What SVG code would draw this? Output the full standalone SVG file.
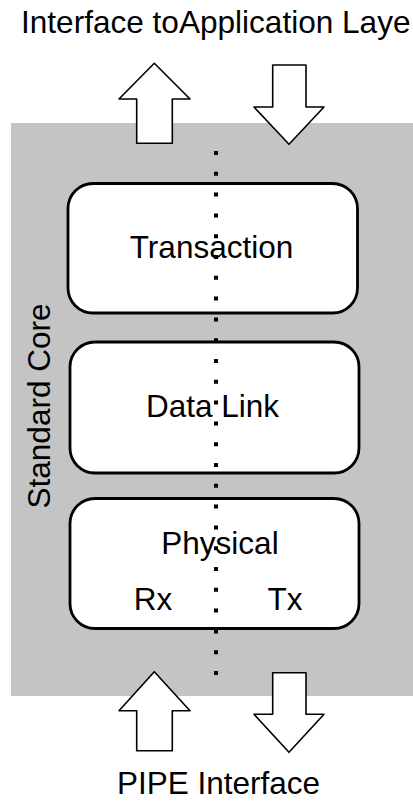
<svg xmlns="http://www.w3.org/2000/svg" width="413" height="801" viewBox="0 0 413 801">
<style>
  text { font-family: "Liberation Sans", Arial, sans-serif; font-size: 31.5px; fill: #000; }
  .box { fill: #fff; stroke: #000; stroke-width: 2.8; }
  .arrow { fill: #fff; stroke: #000; stroke-width: 1.6; stroke-linejoin: round; }
  .dots { stroke: #000; stroke-width: 4; stroke-dasharray: 4 16.8; fill: none; }
</style>
<rect id="core" x="11" y="123" width="410" height="573" fill="#c4c4c4"/>
<text id="title" x="21" y="32.5" textLength="389.5" lengthAdjust="spacingAndGlyphs">Interface toApplication Laye</text>
<text id="core-label" transform="translate(50,406) rotate(-90)" text-anchor="middle">Standard Core</text>
<g id="transaction">
  <rect class="box" x="68" y="183.5" width="289.5" height="129.5" rx="25"/>
  <text x="211.5" y="258" text-anchor="middle">Transaction</text>
</g>
<g id="datalink">
  <rect class="box" x="70" y="342" width="289" height="131" rx="25"/>
  <text x="212.5" y="417" text-anchor="middle">Data Link</text>
</g>
<g id="physical">
  <rect class="box" x="70" y="498.5" width="289" height="130" rx="25"/>
  <text x="220" y="553.5" text-anchor="middle">Physical</text>
  <text x="153" y="610" text-anchor="middle">Rx</text>
  <text x="285" y="610" text-anchor="middle">Tx</text>
</g>
<text id="pipe" x="218.5" y="794" text-anchor="middle">PIPE Interface</text>
<g id="connectors">
  <path class="arrow" d="M154.3,63.3 L190,99 L172.3,99 L172.3,143.3 L136.7,143.3 L136.7,99 L119,99 Z"/>
  <path class="arrow" d="M272.7,65 L306,65 L306,107 L324,107 L289,144.3 L254,107 L272.7,107 Z"/>
  <path class="arrow" d="M154.3,671.7 L190,710.7 L172.3,710.7 L172.3,750.7 L136.7,750.7 L136.7,710.7 L119,710.7 Z"/>
  <path class="arrow" d="M272.7,672.7 L306,672.7 L306,714.3 L324,714.3 L289,752.3 L254,714.3 L272.7,714.3 Z"/>
  <line class="dots" x1="216" y1="151" x2="216" y2="675"/>
</g>
</svg>
